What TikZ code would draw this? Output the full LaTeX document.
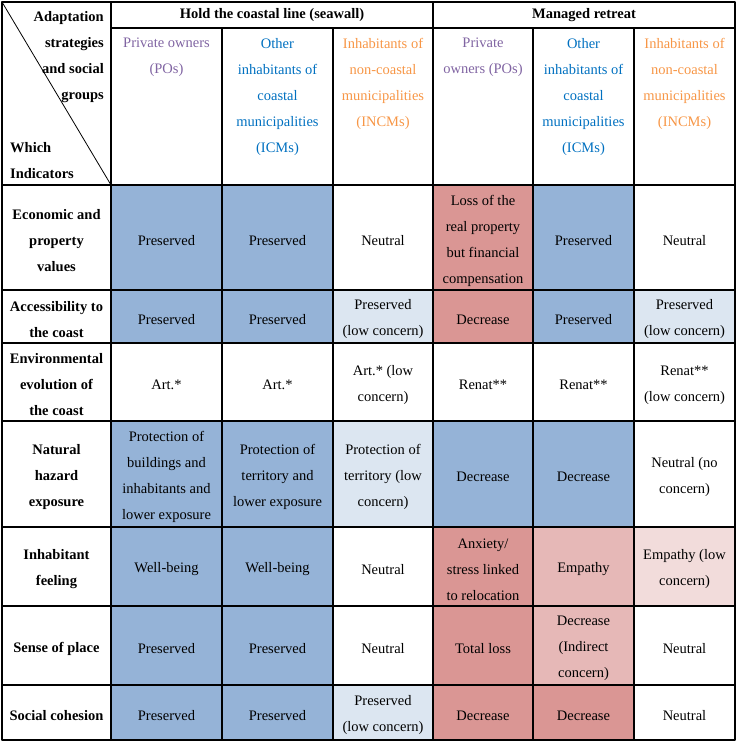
\documentclass[tikz,border=0pt]{standalone}
\usepackage{fontspec}
\setmainfont{Liberation Serif}
\usetikzlibrary{calc}
\definecolor{bluec}{HTML}{95B3D7}
\definecolor{lbluec}{HTML}{DCE6F1}
\definecolor{redc}{HTML}{DA9694}
\definecolor{pinkc}{HTML}{E6B8B7}
\definecolor{lpinkc}{HTML}{F2DCDB}
\definecolor{purplet}{HTML}{8064A2}
\definecolor{bluet}{HTML}{0070C0}
\definecolor{oranget}{HTML}{F79646}
\begin{document}
\begin{tikzpicture}[x=1pt, y=-1pt, font=\fontsize{14.5}{26}\selectfont, line join=round,
	cell/.style={align=center, inner sep=0pt},
	lab/.style={align=center, inner sep=0pt, font=\fontsize{14.5}{26}\selectfont\bfseries},
	grid/.style={line width=1.6pt}]
			\useasboundingbox (0,0) rectangle (737,743);
			\foreach \i/\x in {0/2,1/111,2/222,3/333,4/433,5/533,6/634,7/735}
				\coordinate (X\i) at (\x,0);
			\foreach \j/\y in {0/2,1/28,2/185,3/290,4/343,5/421,6/527,7/606,8/685,9/740}
				\coordinate (Y\j) at (0,\y);
			% cells
			\foreach \row/\col/\fc/\txt [evaluate=\col as \nc using int(\col+1),
				evaluate=\row as \nr using int(\row+1)] in {
				2/1/bluec/Preserved, 2/2/bluec/Preserved, 2/3/white/Neutral,
				2/4/redc/{Loss of the\\real property\\but financial\\compensation},
				2/5/bluec/Preserved, 2/6/white/Neutral,
				3/1/bluec/Preserved, 3/2/bluec/Preserved, 3/3/lbluec/{Preserved\\(low concern)},
				3/4/redc/Decrease, 3/5/bluec/Preserved, 3/6/lbluec/{Preserved\\(low concern)},
				4/1/white/Art.*, 4/2/white/Art.*, 4/3/white/{Art.* (low\\concern)},
				4/4/white/Renat**, 4/5/white/Renat**, 4/6/white/{Renat**\\(low concern)},
				5/1/bluec/{Protection of\\buildings and\\inhabitants and\\lower exposure},
				5/2/bluec/{Protection of\\territory and\\lower exposure},
				5/3/lbluec/{Protection of\\territory (low\\concern)},
				5/4/bluec/Decrease, 5/5/bluec/Decrease, 5/6/white/{Neutral (no\\concern)},
				6/1/bluec/Well-being, 6/2/bluec/Well-being, 6/3/white/Neutral,
				6/4/redc/{Anxiety/\\stress linked\\to relocation},
				6/5/pinkc/Empathy, 6/6/lpinkc/{Empathy (low\\concern)},
				7/1/bluec/Preserved, 7/2/bluec/Preserved, 7/3/white/Neutral,
				7/4/redc/Total loss, 7/5/pinkc/{Decrease\\(Indirect\\concern)}, 7/6/white/Neutral,
				8/1/bluec/Preserved, 8/2/bluec/Preserved, 8/3/lbluec/{Preserved\\(low concern)},
				8/4/redc/Decrease, 8/5/redc/Decrease, 8/6/white/Neutral}{
				\fill[\fc] (X\col|-Y\row) rectangle (X\nc|-Y\nr);
				\node[cell] (v\row\col) at ($(X\col|-Y\row)!0.5!(X\nc|-Y\nr)+(0,3)$) {\txt};
			}
			% indicators
			\foreach \row/\txt [evaluate=\row as \nr using int(\row+1)] in {
				2/{Economic and\\property\\values}, 3/{Accessibility to\\the coast},
				4/{Environmental\\evolution of\\the coast}, 5/{Natural\\hazard\\exposure},
				6/{Inhabitant\\feeling}, 7/Sense of place, 8/Social cohesion}
				\node[lab] (l\row) at ($(X0|-Y\row)!0.5!(X1|-Y\nr)+(0,3)$) {\txt};
			% headers
			\node[lab] (hold) at ($(X1|-Y0)!0.5!(X4|-Y1)$) {Hold the coastal line (seawall)};
			\node[lab] (retreat) at ($(X4|-Y0)!0.5!(X7|-Y1)$) {Managed retreat};
			\foreach \col/\tc/\txt [evaluate=\col as \nc using int(\col+1)] in {
				1/purplet/{Private owners\\(POs)},
				2/bluet/{Other\\inhabitants of\\coastal\\municipalities\\(ICMs)},
				3/oranget/{Inhabitants of\\non-coastal\\municipalities\\(INCMs)},
				4/purplet/{Private\\owners (POs)},
				5/bluet/{Other\\inhabitants of\\coastal\\municipalities\\(ICMs)},
				6/oranget/{Inhabitants of\\non-coastal\\municipalities\\(INCMs)}}
				\node[cell, text=\tc, anchor=north] (g\col) at ($(X\col|-Y1)!0.5!(X\nc|-Y1)+(0,10)$) {\txt};
			\node[lab, align=right, anchor=north east] (strat) at (104,11) {Adaptation\\strategies\\and social\\groups};
			\node[lab, align=left, anchor=north west] (which) at (10,142) {Which\\Indicators};
			% grid
			\draw[line width=0.8pt] (X0|-Y0) -- (X1|-Y2);
			\draw[grid] (X0|-Y0) rectangle (X7|-Y9);
			\foreach \row in {2,...,8} \draw[grid] (X0|-Y\row) -- (X7|-Y\row);
			\draw[grid] (X1|-Y1) -- (X7|-Y1) (X1|-Y0) -- (X1|-Y9) (X4|-Y0) -- (X4|-Y9);
			\foreach \col in {2,3,5,6} \draw[grid] (X\col|-Y1) -- (X\col|-Y9);
\end{tikzpicture}
\end{document}
